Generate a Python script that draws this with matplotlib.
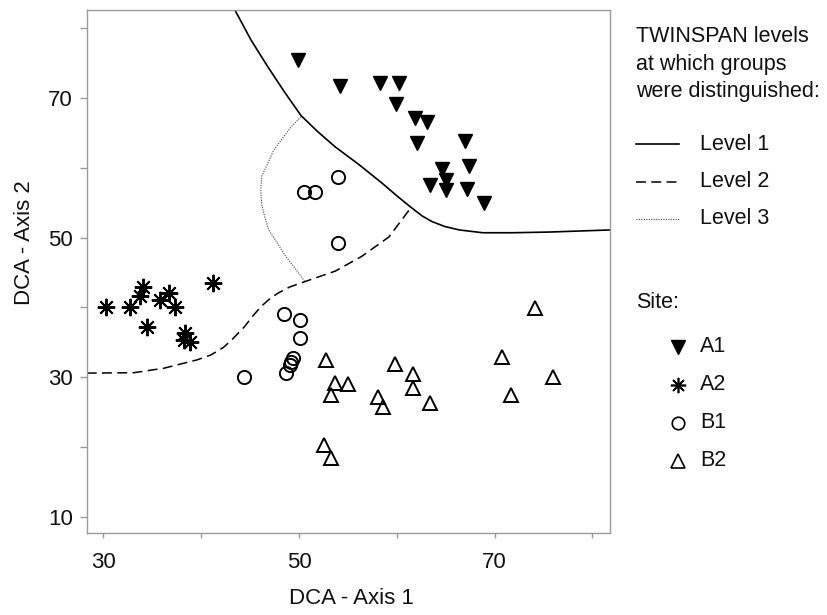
import matplotlib
matplotlib.use("Agg")
import matplotlib.pyplot as plt
from matplotlib.lines import Line2D

plt.rcParams["font.family"] = ["Liberation Sans", "DejaVu Sans"]

# Site scores (DCA axis 1, axis 2)
a1_x = [49.9, 54.2, 58.3, 60.2, 59.9, 61.9, 63.1, 62.1, 67.0, 64.6, 67.4, 63.4, 65.0, 65.0, 67.2, 68.9]
a1_y = [75.4, 71.7, 72.2, 72.2, 69.1, 67.2, 66.5, 63.6, 63.9, 59.9, 60.3, 57.5, 58.3, 56.8, 57.0, 55.0]

a2_x = [30.3, 32.7, 34.1, 33.7, 34.5, 35.8, 36.7, 37.3, 38.4, 38.2, 38.9, 41.2]
a2_y = [40.1, 40.1, 42.9, 41.6, 37.2, 41.1, 42.0, 40.1, 36.4, 35.4, 35.1, 43.5]

b1_x = [50.5, 51.6, 54.0, 54.0, 48.5, 50.1, 50.1, 49.4, 49.2, 49.1, 48.7, 44.4]
b1_y = [56.6, 56.6, 58.7, 49.3, 39.0, 38.2, 35.6, 32.7, 32.2, 31.7, 30.6, 30.1]

b2_x = [52.8, 53.7, 55.0, 53.3, 52.6, 53.3, 59.8, 61.7, 61.7, 58.1, 58.6, 63.4, 74.1, 70.8, 76.0, 71.7]
b2_y = [32.5, 29.2, 29.0, 27.4, 20.3, 18.5, 31.9, 30.5, 28.4, 27.2, 25.7, 26.3, 39.9, 32.9, 30.1, 27.4]

# TWINSPAN division boundaries
lev1_x = [43.45, 45.1, 46.8, 48.5, 50.2, 51.9, 53.7, 56.1, 58.5, 60.0, 61.4, 62.6, 63.6, 64.9, 66.4,
          68.8, 71.8, 75.6, 81.8]
lev1_y = [82.6, 78.3, 74.5, 70.9, 67.5, 65.2, 63.0, 60.5, 57.8, 56.0, 54.4, 53.1, 52.3, 51.6, 51.1,
          50.7, 50.7, 50.8, 51.1]

lev2_x = [28.3, 33.1, 36.2, 39.6, 41.0, 42.3, 43.3, 44.4, 45.3, 46.1, 46.9, 47.8, 49.0, 50.6, 53.7,
          56.4, 59.2, 61.4]
lev2_y = [30.6, 30.65, 31.3, 32.5, 33.2, 34.3, 35.6, 37.2, 38.8, 40.1, 41.1, 42.0, 42.9, 43.7, 45.2,
          47.3, 50.1, 54.2]

lev3_x = [50.2, 49.1, 48.2, 47.4, 46.8, 46.2, 46.1, 46.2, 46.5, 46.9, 47.8, 48.6, 49.5, 50.6]
lev3_y = [67.3, 65.7, 64.0, 62.5, 60.6, 58.8, 56.8, 54.7, 53.0, 51.1, 49.2, 47.4, 45.8, 43.7]

level_labels = ["Level 1", "Level 2", "Level 3"]
site_labels = ["A1", "A2", "B1", "B2"]
legend_title = ["TWINSPAN levels", "at which groups", "were distinguished:"]

W, H = 827, 615
fig = plt.figure(figsize=(W / 100, H / 100), dpi=100)
ax = fig.add_axes([86.7 / W, (H - 533) / H, (610 - 86.7) / W, (533 - 10) / H])

gray = "#9a9a9a"
txt = "#111111"
fs = 16
lfs = 15.5

ax.plot(lev1_x, lev1_y, color="black", lw=1.2)
ax.plot(lev2_x, lev2_y, color="black", lw=1.1, ls=(0, (6.5, 3.5)))
ax.plot(lev3_x, lev3_y, color="#444444", lw=0.8, ls=(0, (1, 1.2)))

asterisk = (8, 2, 0)
ax.plot(a1_x, a1_y, "v", ms=10, color="black", ls="none")
ax.plot(a2_x, a2_y, marker=asterisk, ms=12.5, mew=1.4, color="black", ls="none")
ax.plot(b1_x, b1_y, "o", ms=9.5, mfc="none", mec="black", mew=1.4, ls="none")
ax.plot(b2_x, b2_y, "^", ms=10, mfc="none", mec="black", mew=1.4, ls="none")

ax.set_xlim(28.3, 81.8)
ax.set_ylim(7.7, 82.6)
ax.set_xticks([30, 40, 50, 60, 70, 80])
ax.set_xticklabels(["30", "", "50", "", "70", ""])
ax.set_yticks([10, 20, 30, 40, 50, 60, 70, 80])
ax.set_yticklabels(["10", "", "30", "", "50", "", "70", ""])
ax.tick_params(axis="x", direction="out", length=3.6, width=1, color=gray,
               labelsize=fs, labelcolor=txt, pad=10)
ax.tick_params(axis="y", direction="out", length=5, width=1, color=gray,
               labelsize=fs, labelcolor=txt, pad=5)
for s in ax.spines.values():
    s.set_color(gray)
    s.set_linewidth(1)

fig.text(351 / W, 1 - 598 / H, "DCA - Axis 1", fontsize=fs, color=txt,
         ha="center", va="center")
fig.text(25 / W, 1 - 243 / H, "DCA - Axis 2", fontsize=fs, color=txt,
         ha="center", va="center", rotation=90)

# legend, drawn by hand in pixel coordinates
lax = fig.add_axes([0, 0, 1, 1])
lax.set_xlim(0, W)
lax.set_ylim(H, 0)
lax.axis("off")

for i, line in enumerate(legend_title):
    lax.text(636, 37 + 27.5 * i, line, fontsize=lfs, color=txt, va="center")

level_styles = [dict(color="black", lw=1.2, ls="-"),
                dict(color="black", lw=1.1, ls=(0, (6.5, 3.5))),
                dict(color="#444444", lw=0.8, ls=(0, (1, 1.2)))]
for i, (lab, st) in enumerate(zip(level_labels, level_styles)):
    y = 144 + 37.5 * i
    lax.add_line(Line2D([636, 679], [y, y], **st))
    lax.text(700, y, lab, fontsize=lfs, color=txt, va="center")

lax.text(636, 302, "Site:", fontsize=lfs, color=txt, va="center")
site_styles = [dict(marker="v", ms=10, color="black"),
               dict(marker=asterisk, ms=11, mew=1.2, color="black"),
               dict(marker="o", ms=9, mfc="none", mec="black", mew=1.2),
               dict(marker="^", ms=9.5, mfc="none", mec="black", mew=1.2)]
for i, (lab, st) in enumerate(zip(site_labels, site_styles)):
    y = [347, 385, 423, 461][i]
    lax.plot([678], [y], ls="none", **st)
    lax.text(700, y, lab, fontsize=lfs, color=txt, va="center")

fig.savefig("out.png", dpi=100)
